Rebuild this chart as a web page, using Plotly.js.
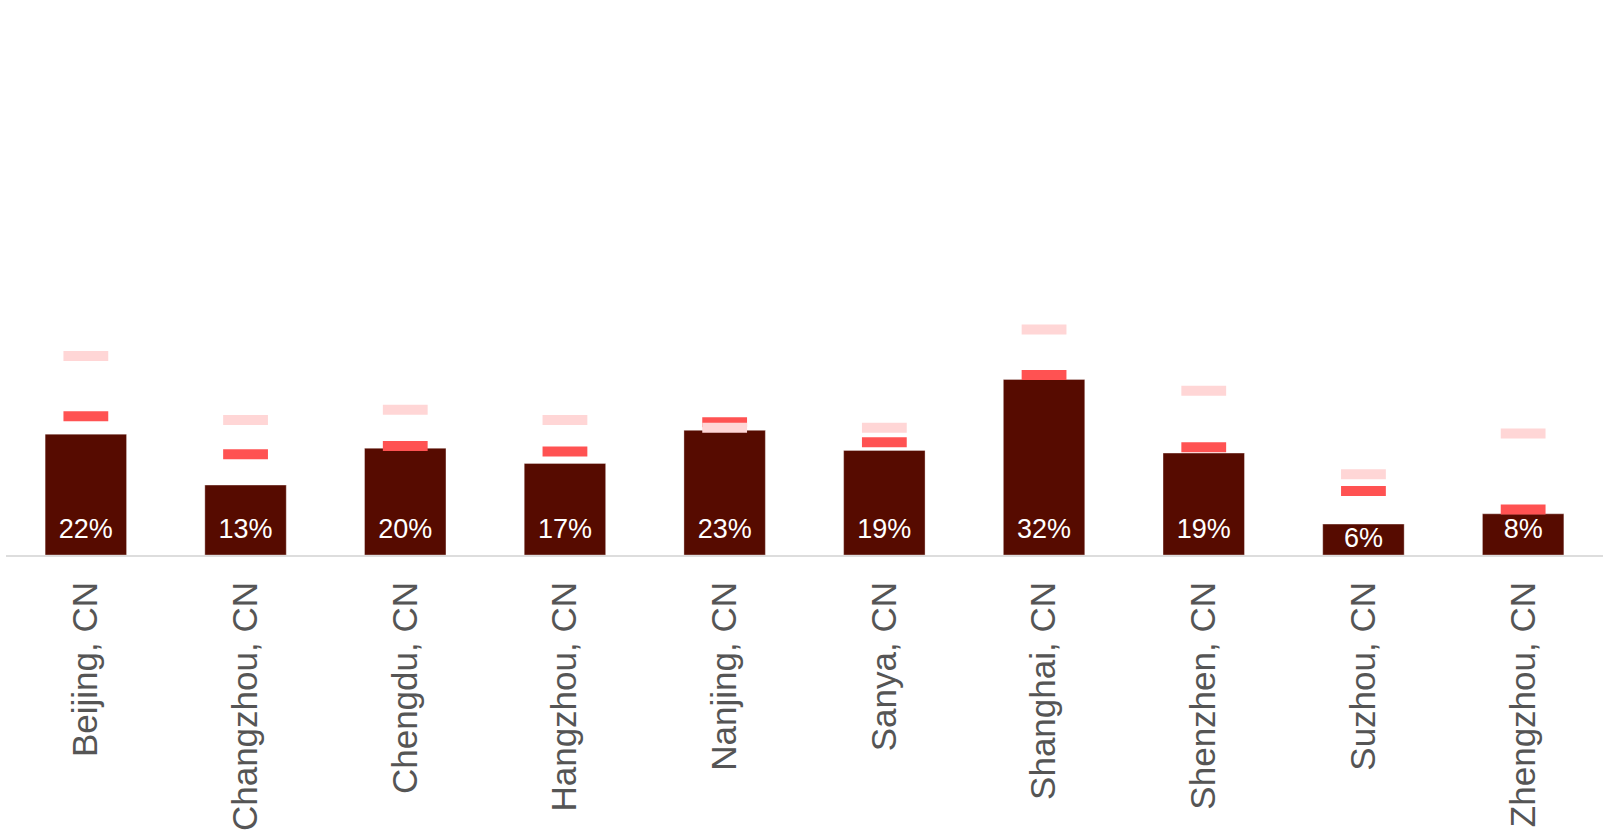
<!DOCTYPE html>
<html>
<head>
<meta charset="utf-8">
<script src="https://cdn.plot.ly/plotly-3.0.1.min.js"></script>
<style>
  html, body { margin: 0; padding: 0; background: #ffffff; }
  #chart { width: 1605px; height: 837px; }
</style>
</head>
<body>
<div id="chart"></div>
<script>
const cities = ["Beijing, CN", "Changzhou, CN", "Chengdu, CN", "Hangzhou, CN", "Nanjing, CN",
                "Sanya, CN", "Shanghai, CN", "Shenzhen, CN", "Suzhou, CN", "Zhengzhou, CN"];
const barValues = [22.3, 12.9, 19.7, 16.9, 23.0, 19.3, 32.4, 18.8, 5.7, 7.6];
const barLabels = ["22%", "13%", "20%", "17%", "23%", "19%", "32%", "19%", "6%", "8%"];
const redValues = [25.6, 18.6, 20.1, 19.1, 24.5, 20.8, 33.2, 19.9, 11.8, 8.4];
const pinkValues = [36.7, 24.9, 26.8, 24.9, 23.5, 23.5, 41.6, 30.3, 14.9, 22.4];
// label sits near the base, but never above the inside of a short bar
const labelY = barValues.map(v => Math.min(4.4, v - 2.9));

const traces = [
  {
    type: "bar",
    x: cities,
    y: barValues,
    width: 0.51,
    marker: { color: "#560b00", line: { color: "rgba(255,255,255,0.35)", width: 1 } },
    hoverinfo: "skip",
    showlegend: false
  },
  {
    type: "scatter",
    mode: "markers",
    x: cities,
    y: redValues,
    marker: { symbol: "line-ew", size: 32, color: "#ff5252", line: { color: "#ff5252", width: 10 } },
    hoverinfo: "skip",
    showlegend: false
  },
  {
    type: "scatter",
    mode: "markers",
    x: cities,
    y: pinkValues,
    marker: { symbol: "line-ew", size: 32, color: "#ffd6d6", line: { color: "#ffd6d6", width: 10 } },
    hoverinfo: "skip",
    showlegend: false
  },
  {
    type: "scatter",
    mode: "text",
    x: cities,
    y: labelY,
    text: barLabels,
    textposition: "middle center",
    cliponaxis: false,
    textfont: { family: "Liberation Sans, Arial, sans-serif", size: 27, color: "#ffffff" },
    hoverinfo: "skip",
    showlegend: false
  }
];

const layout = {
  width: 1605,
  height: 837,
  margin: { l: 6, r: 2, t: 13, b: 282 },
  paper_bgcolor: "#ffffff",
  plot_bgcolor: "#ffffff",
  showlegend: false,
  xaxis: {
    type: "category",
    range: [-0.5, 9.5],
    showgrid: false,
    zeroline: false,
    showline: true,
    linecolor: "#dddddd",
    linewidth: 2,
    ticks: "",
    tickangle: -90,
    ticklabelstandoff: 11,
    tickfont: { family: "Liberation Sans, Arial, sans-serif", size: 35, color: "#555555" },
    fixedrange: true
  },
  yaxis: {
    range: [0, 100],
    showgrid: false,
    zeroline: false,
    showline: false,
    showticklabels: false,
    ticks: "",
    fixedrange: true
  }
};

Plotly.newPlot("chart", traces, layout, { displayModeBar: false, staticPlot: true });
</script>
</body>
</html>
